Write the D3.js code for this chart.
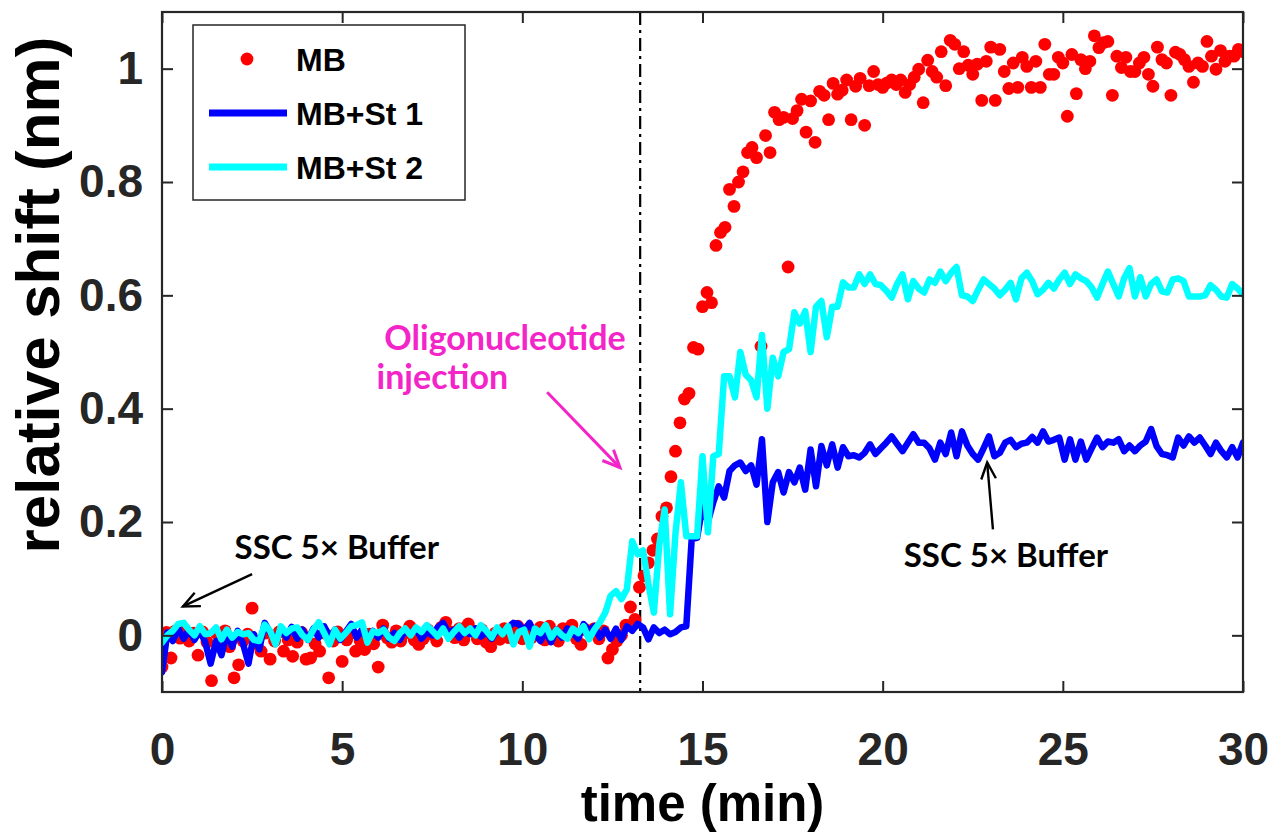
<!DOCTYPE html>
<html>
<head>
<meta charset="utf-8">
<script src="https://cdn.jsdelivr.net/npm/d3@7"></script>
<style>
  html, body { margin: 0; padding: 0; background: #ffffff; }
  svg { display: block; }
</style>
</head>
<body>
<svg id="chart" width="1273" height="834"></svg>
<script>
// Sampling interval (minutes) of each recording
const MB_STEP = 0.125;
const ST_STEP = 0.15;

// MB (dots): relative resonance shift in nm, one value every MB_STEP minutes
const mbShift = [
  -0.056, 0.005, -0.040, 0.008, -0.005, 0.010, -0.010, 0.004, -0.035, 0.006,
  -0.012, -0.080, 0.004, -0.015, 0.008, -0.020, -0.075, -0.052, -0.010, 0.002,
  0.048, -0.015, -0.028, 0.004, -0.042, -0.010, 0.006, -0.028, -0.008, -0.037,
  -0.012, 0.005, -0.042, -0.040, -0.015, -0.028, 0.004, -0.075, -0.010, 0.006,
  -0.046, -0.008, 0.004, -0.028, -0.010, -0.025, 0.002, -0.015, -0.056, 0.018,
  -0.004, -0.012, 0.008, -0.010, 0.004, 0.016, -0.008, -0.016, -0.006, 0.010,
  0.002, -0.010, 0.014, 0.023, 0.006, -0.004, 0.012, -0.008, 0.020, 0.008,
  -0.006, 0.010, -0.012, -0.020, 0.004, -0.007, 0.012, -0.004, 0.008, 0.016,
  -0.006, 0.010, -0.004, 0.006, 0.014, -0.008, 0.016, 0.004, -0.010, 0.012,
  0.002, 0.018, -0.006, -0.016, 0.010, 0.004, 0.012, -0.006, 0.008, -0.040,
  -0.025, -0.010, 0.000, 0.018, 0.050, 0.028, 0.085, 0.105, 0.128, 0.150,
  0.170, 0.210, 0.225, 0.280, 0.325, 0.375, 0.417, 0.427, 0.508, 0.505,
  0.580, 0.605, 0.587, 0.688, 0.711, 0.720, 0.787, 0.757, 0.800, 0.818,
  0.852, 0.861, 0.843, 0.510, 0.882, 0.852, 0.923, 0.910, 0.914, 0.650,
  0.912, 0.926, 0.946, 0.888, 0.943, 0.870, 0.960, 0.953, 0.910, 0.974,
  0.955, 0.962, 0.980, 0.910, 0.969, 0.983, 0.900, 0.970, 0.995, 0.972,
  0.967, 0.975, 0.980, 0.972, 0.980, 0.958, 0.972, 0.985, 0.999, 0.940,
  1.015, 0.995, 0.985, 1.030, 0.970, 1.050, 1.043, 1.000, 1.030, 1.006,
  0.990, 1.008, 0.944, 1.013, 1.038, 0.944, 1.034, 0.995, 0.965, 1.010,
  0.967, 1.020, 1.004, 0.967, 1.013, 0.967, 1.043, 0.990, 0.990, 1.020,
  1.010, 0.916, 1.025, 0.956, 1.016, 1.000, 1.013, 1.058, 1.037, 1.046,
  1.048, 0.953, 1.022, 1.002, 1.020, 0.995, 0.995, 1.010, 1.020, 0.990,
  0.969, 1.038, 1.016, 1.010, 0.953, 1.029, 1.025, 1.016, 1.004, 0.976,
  1.010, 1.004, 1.048, 1.022, 0.999, 1.032, 1.013, 1.022, 1.022, 1.034,
  1.030
];

// MB+St 1 (blue line), one value every ST_STEP minutes
const st1Shift = [
  -0.065, 0.005, -0.010, 0.012, -0.006, 0.010, -0.008, 0.008, -0.012, -0.050,
  -0.010, -0.035, 0.005, -0.020, 0.008, -0.015, -0.050, 0.002, -0.025, 0.022,
  0.005, -0.008, 0.012, -0.004, 0.015, -0.006, 0.010, -0.008, 0.012, -0.004,
  0.016, -0.002, 0.010, -0.008, 0.006, 0.020, -0.004, 0.010, -0.008, 0.008,
  -0.004, 0.012, -0.006, 0.004, -0.008, 0.008, 0.002, 0.012, -0.006, 0.006,
  0.000, 0.014, 0.022, 0.004, 0.010, -0.004, 0.008, 0.002, 0.012, -0.002,
  0.006, -0.006, 0.010, 0.004, 0.014, 0.022, 0.020, 0.008, 0.022, 0.002,
  -0.010, 0.006, -0.012, 0.010, -0.004, 0.012, 0.004, -0.006, 0.020, 0.008,
  0.016, -0.004, 0.010, -0.006, 0.012, -0.008, 0.016, 0.008, 0.020, 0.014,
  -0.007, 0.014, 0.004, 0.010, 0.002, 0.006, 0.014, 0.016, 0.170, 0.172,
  0.228, 0.200, 0.235, 0.263, 0.243, 0.290, 0.300, 0.305, 0.290, 0.300,
  0.266, 0.346, 0.200, 0.270, 0.288, 0.252, 0.288, 0.270, 0.296, 0.257,
  0.328, 0.263, 0.334, 0.300, 0.337, 0.296, 0.332, 0.316, 0.318, 0.314,
  0.322, 0.337, 0.320, 0.330, 0.340, 0.351, 0.338, 0.325, 0.340, 0.355,
  0.340, 0.340, 0.330, 0.310, 0.340, 0.320, 0.358, 0.316, 0.360, 0.335,
  0.320, 0.310, 0.330, 0.351, 0.316, 0.322, 0.340, 0.345, 0.332, 0.338,
  0.340, 0.350, 0.340, 0.360, 0.342, 0.345, 0.349, 0.310, 0.346, 0.310,
  0.342, 0.310, 0.330, 0.349, 0.332, 0.342, 0.340, 0.346, 0.325, 0.335,
  0.325, 0.335, 0.342, 0.364, 0.334, 0.320, 0.318, 0.314, 0.349, 0.335,
  0.351, 0.340, 0.349, 0.335, 0.320, 0.340, 0.325, 0.314, 0.332, 0.314,
  0.340
];

// MB+St 2 (cyan line), one value every ST_STEP minutes
const st2Shift = [
  -0.013, 0.000, 0.008, 0.020, 0.022, 0.010, 0.000, 0.016, 0.002, 0.004,
  0.014, -0.007, 0.010, -0.004, 0.006, 0.002, 0.004, -0.008, -0.010, 0.019,
  0.008, -0.016, 0.016, 0.004, 0.012, 0.014, 0.000, -0.008, 0.010, 0.023,
  0.004, -0.016, 0.010, -0.006, 0.004, 0.016, 0.018, 0.023, -0.013, 0.007,
  0.004, 0.010, -0.004, -0.010, 0.004, 0.012, 0.000, 0.014, 0.006, 0.018,
  0.008, -0.002, 0.012, -0.006, 0.006, 0.016, 0.004, 0.012, 0.000, 0.018,
  0.008, -0.004, 0.014, 0.002, 0.016, -0.016, 0.006, 0.010, -0.020, 0.012,
  0.004, 0.018, -0.004, 0.010, 0.000, -0.006, 0.012, 0.004, 0.016, -0.007,
  0.010, 0.023, 0.040, 0.070, 0.078, 0.064, 0.081, 0.166, 0.143, 0.150,
  0.090, 0.040, 0.160, 0.222, 0.037, 0.180, 0.270, 0.175, 0.175, 0.175,
  0.316, 0.182, 0.316, 0.320, 0.457, 0.457, 0.420, 0.500, 0.460, 0.450,
  0.420, 0.530, 0.400, 0.490, 0.457, 0.500, 0.505, 0.570, 0.550, 0.572,
  0.500, 0.580, 0.590, 0.526, 0.580, 0.580, 0.623, 0.614, 0.614, 0.637,
  0.620, 0.637, 0.620, 0.618, 0.608, 0.596, 0.620, 0.637, 0.593, 0.625,
  0.612, 0.605, 0.628, 0.622, 0.642, 0.625, 0.640, 0.650, 0.600, 0.598,
  0.590, 0.610, 0.628, 0.620, 0.612, 0.600, 0.610, 0.622, 0.593, 0.630,
  0.640, 0.625, 0.602, 0.610, 0.622, 0.612, 0.628, 0.640, 0.620, 0.637,
  0.630, 0.625, 0.614, 0.596, 0.620, 0.642, 0.620, 0.598, 0.630, 0.648,
  0.598, 0.632, 0.598, 0.620, 0.628, 0.607, 0.605, 0.628, 0.630, 0.625,
  0.598, 0.598, 0.598, 0.600, 0.618, 0.610, 0.598, 0.596, 0.620, 0.612,
  0.602
];

// Axis ticks and labels
const xTicks = [0, 5, 10, 15, 20, 25, 30];
const yTicks = [0, 0.2, 0.4, 0.6, 0.8, 1];
const seriesNames = ["MB", "MB+St 1", "MB+St 2"];
const injectionTime = 13.27;

const mbPoints = mbShift.map((v, i) => ({ t: i * MB_STEP, v }));
const st1Points = st1Shift.map((v, i) => ({ t: i * ST_STEP, v }));
const st2Points = st2Shift.map((v, i) => ({ t: i * ST_STEP, v }));

const svg = d3.select("#chart");
const plot = { left: 162, right: 1243, top: 12, bottom: 692 };
const axisColor = "#262626";
const tickFont = "'Liberation Sans', Arial, sans-serif";
const noteFont = "Lato, 'Open Sans', sans-serif";

const x = d3.scaleLinear().domain([0, 30]).range([plot.left, plot.right]);
const y = d3.scaleLinear().domain([-0.1, 1.1]).range([plot.bottom, plot.top]);

svg.append("defs").append("clipPath").attr("id", "plot-clip")
  .append("rect")
  .attr("x", plot.left).attr("y", plot.top)
  .attr("width", plot.right - plot.left).attr("height", plot.bottom - plot.top);

// Injection marker
svg.append("line")
  .attr("x1", x(injectionTime)).attr("x2", x(injectionTime))
  .attr("y1", plot.top).attr("y2", plot.bottom)
  .attr("stroke", "#000").attr("stroke-width", 2.2)
  .attr("stroke-dasharray", "13,5,3,5");

const data = svg.append("g").attr("clip-path", "url(#plot-clip)");

data.selectAll("circle.mb").data(mbPoints).join("circle")
  .attr("class", "mb")
  .attr("cx", d => x(d.t)).attr("cy", d => y(d.v))
  .attr("r", 6.4).attr("fill", "#ff0000");

const line = d3.line().x(d => x(d.t)).y(d => y(d.v));

data.append("path").datum(st1Points)
  .attr("d", line).attr("fill", "none")
  .attr("stroke", "#0000ff").attr("stroke-width", 6.5)
  .attr("stroke-linejoin", "round").attr("stroke-linecap", "round");

data.append("path").datum(st2Points)
  .attr("d", line).attr("fill", "none")
  .attr("stroke", "#00ffff").attr("stroke-width", 6.5)
  .attr("stroke-linejoin", "round").attr("stroke-linecap", "round");

// Axes: ticks point inward on all four sides
const tickLen = 11;
function styleAxis(g) {
  g.selectAll(".domain").remove();
  g.selectAll(".tick line").attr("stroke", axisColor).attr("stroke-width", 2);
  g.selectAll(".tick text")
    .attr("fill", axisColor)
    .style("font-family", tickFont)
    .style("font-weight", "bold")
    .style("font-size", "46px");
}

svg.append("g").attr("transform", `translate(0,${plot.bottom})`)
  .call(d3.axisBottom(x).tickValues(xTicks).tickFormat(d3.format("d"))
    .tickSizeInner(-tickLen).tickSizeOuter(0).tickPadding(40))
  .call(styleAxis);

svg.append("g").attr("transform", `translate(0,${plot.top})`)
  .call(d3.axisTop(x).tickValues(xTicks).tickFormat("")
    .tickSizeInner(-tickLen).tickSizeOuter(0))
  .call(styleAxis);

svg.append("g").attr("transform", `translate(${plot.left},0)`)
  .call(d3.axisLeft(y).tickValues(yTicks).tickFormat(d => d === 0 || d === 1 ? d3.format("d")(d) : d3.format(".1f")(d))
    .tickSizeInner(-tickLen).tickSizeOuter(0).tickPadding(19))
  .call(styleAxis);

svg.append("g").attr("transform", `translate(${plot.right},0)`)
  .call(d3.axisRight(y).tickValues(yTicks).tickFormat("")
    .tickSizeInner(-tickLen).tickSizeOuter(0))
  .call(styleAxis);

// Plot frame
svg.append("rect")
  .attr("x", plot.left).attr("y", plot.top)
  .attr("width", plot.right - plot.left).attr("height", plot.bottom - plot.top)
  .attr("fill", "none").attr("stroke", axisColor).attr("stroke-width", 2.2);

// Axis titles
svg.append("text")
  .attr("x", (plot.left + plot.right) / 2).attr("y", 821)
  .attr("text-anchor", "middle")
  .style("font-family", tickFont).style("font-weight", "bold").style("font-size", "51px")
  .attr("fill", "#000").text("time (min)");

svg.append("text")
  .attr("transform", "translate(59,295) rotate(-90)")
  .attr("text-anchor", "middle")
  .style("font-family", tickFont).style("font-weight", "bold").style("font-size", "62px")
  .attr("fill", "#000").text("relative shift (nm)");

// Legend
const legend = svg.append("g");
legend.append("rect")
  .attr("x", 193).attr("y", 25).attr("width", 272).attr("height", 175)
  .attr("fill", "#fff").attr("stroke", axisColor).attr("stroke-width", 1.5);
const rowY = [59, 113, 167];
legend.append("circle").attr("cx", 247).attr("cy", rowY[0]).attr("r", 6.4).attr("fill", "#ff0000");
legend.append("line").attr("x1", 209).attr("x2", 287).attr("y1", rowY[1]).attr("y2", rowY[1])
  .attr("stroke", "#0000ff").attr("stroke-width", 7);
legend.append("line").attr("x1", 209).attr("x2", 287).attr("y1", rowY[2]).attr("y2", rowY[2])
  .attr("stroke", "#00ffff").attr("stroke-width", 7);
legend.selectAll("text.leg").data(seriesNames).join("text")
  .attr("class", "leg")
  .attr("x", 296).attr("y", (d, i) => rowY[i] + 12)
  .style("font-family", tickFont).style("font-weight", "bold").style("font-size", "32px")
  .attr("fill", "#000").text(d => d);

// Annotations
function arrow(g, t0, v0, t1, v1, color, width, head) {
  const x0 = x(t0), y0 = y(v0), x1 = x(t1), y1 = y(v1);
  const a = Math.atan2(y1 - y0, x1 - x0);
  const spread = 0.42;
  g.append("line").attr("x1", x0).attr("y1", y0).attr("x2", x1).attr("y2", y1)
    .attr("stroke", color).attr("stroke-width", width);
  g.append("path")
    .attr("d", `M${x1 - head * Math.cos(a - spread)},${y1 - head * Math.sin(a - spread)}L${x1},${y1}L${x1 - head * Math.cos(a + spread)},${y1 - head * Math.sin(a + spread)}`)
    .attr("fill", "none").attr("stroke", color).attr("stroke-width", width)
    .attr("stroke-linejoin", "miter");
}

const notes = svg.append("g");
const magenta = "#f425c8";
notes.append("text").attr("x", x(9.52)).attr("y", y(0.503))
  .attr("text-anchor", "middle")
  .style("font-family", noteFont).style("font-weight", "bold").style("font-size", "34px")
  .attr("fill", magenta).text("Oligonucleotide");
notes.append("text").attr("x", x(7.78)).attr("y", y(0.435))
  .attr("text-anchor", "middle")
  .style("font-family", noteFont).style("font-weight", "bold").style("font-size", "34px")
  .attr("fill", magenta).text("injection");
arrow(notes, 10.69, 0.429, 12.71, 0.296, magenta, 3, 19);

notes.append("text").attr("x", x(4.85)).attr("y", y(0.134))
  .attr("text-anchor", "middle")
  .style("font-family", noteFont).style("font-weight", "bold").style("font-size", "33px")
  .attr("fill", "#000").text("SSC 5× Buffer");
arrow(notes, 2.5, 0.108, 0.58, 0.051, "#000", 2.4, 18);

notes.append("text").attr("x", x(23.42)).attr("y", y(0.12))
  .attr("text-anchor", "middle")
  .style("font-family", noteFont).style("font-weight", "bold").style("font-size", "33px")
  .attr("fill", "#000").text("SSC 5× Buffer");
arrow(notes, 23.06, 0.187, 22.9, 0.305, "#000", 2.4, 18);
</script>
</body>
</html>
